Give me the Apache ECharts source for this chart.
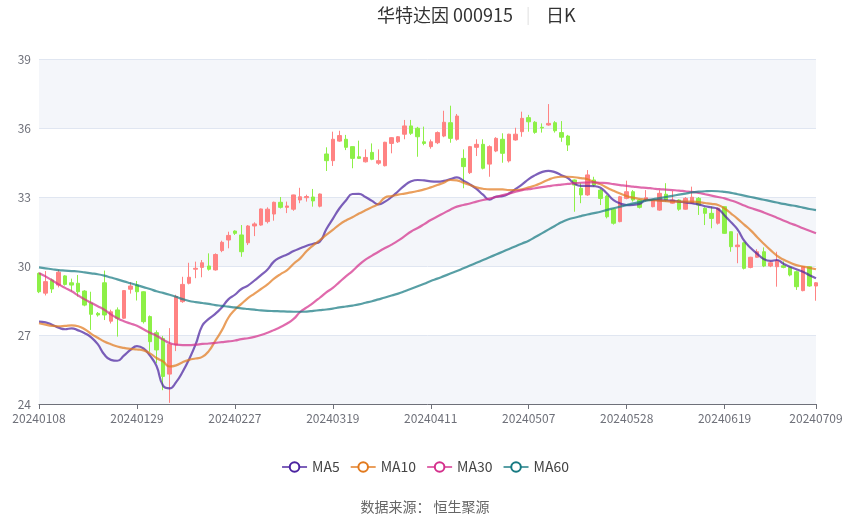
<!DOCTYPE html>
<html><head><meta charset="utf-8">
<script src="https://cdn.jsdelivr.net/npm/echarts@6/dist/echarts.min.js"></script>
<style>html,body{margin:0;padding:0;background:#fff}#c{width:850px;height:517px}</style>
</head><body><div id="c"></div>
<script>
const dates = ['20240108','20240109','20240110','20240111','20240112','20240115','20240116','20240117','20240118','20240119','20240122','20240123','20240124','20240125','20240126','20240129','20240130','20240131',
'20240201','20240202','20240205','20240206','20240207','20240208','20240219','20240220','20240221','20240222','20240223','20240226','20240227','20240228','20240229',
'20240301','20240304','20240305','20240306','20240307','20240308','20240311','20240312','20240313','20240314','20240315','20240318','20240319','20240320','20240321','20240322','20240325','20240326','20240327','20240328','20240329',
'20240401','20240402','20240403','20240408','20240409','20240410','20240411','20240412','20240415','20240416','20240417','20240418','20240419','20240422','20240423','20240424','20240425','20240426','20240429','20240430',
'20240506','20240507','20240508','20240509','20240510','20240513','20240514','20240515','20240516','20240517','20240520','20240521','20240522','20240523','20240524','20240527','20240528','20240529','20240530','20240531',
'20240603','20240604','20240605','20240606','20240607','20240611','20240612','20240613','20240614','20240617','20240618','20240619','20240620','20240621','20240624','20240625','20240626','20240627','20240628',
'20240701','20240702','20240703','20240704','20240705','20240708','20240709'];
const tickLabels = ['20240108','20240129','20240227','20240319','20240411','20240507','20240528','20240619','20240709'];
const yTicks = [24, 27, 30, 33, 36, 39];

const openP = [29.68,28.82,29.39,29.17,29.57,29.27,29.25,28.91,28.38,27.94, 29.27,27.6,28.09,27.73,28.99,29.17,28.88,27.8,27.1,26.85, 25.3,26.57,28.45,29.25,29.86,29.94,30.0,29.83,30.67,31.13, 31.52,31.35,31.01,31.74,31.78,31.93,32.26,32.77,32.55,32.47, 32.87,32.97,33.0,32.6,34.87,34.58,35.43,35.51,35.19,34.75, 34.53,34.94,34.47,34.36,35.33,35.4,35.73,36.09,35.99,35.4, 35.19,35.36,35.65,36.23,35.51,34.68,34.06,35.16,35.29,34.43, 35.0,35.51,34.57,35.48,35.84,36.45,36.25,36.03,36.13,36.23, 35.8,35.65,33.74,33.38,33.09,33.74,33.3,33.04,32.47,31.93, 32.94,33.23,32.87,32.87,32.58,32.43,33.12,32.73,32.87,32.47, 32.73,32.94,32.51,32.29,31.86,32.58,31.49,30.84,31.01,29.94, 30.38,30.62,30.0,29.97,30.01,29.94,29.75,28.93,29.97,29.13];
const closeP = [28.88,29.32,29.0,29.73,29.2,29.17,28.88,28.3,27.9,27.87, 27.87,28.01,27.73,28.93,29.13,28.88,27.58,26.71,26.35,25.2, 26.6,28.67,29.2,29.51,29.9,30.14,29.86,30.5,31.03,31.33, 31.42,30.62,31.74,31.83,32.48,32.47,32.77,32.55,32.61,33.09, 33.01,33.02,32.83,33.13,34.58,35.51,35.67,35.16,34.68,34.68, 34.72,34.64,34.58,35.38,35.58,35.62,36.09,35.77,35.62,35.33, 35.4,35.8,36.25,35.55,36.52,34.32,35.19,35.29,34.25,35.19, 35.55,34.9,35.73,35.73,36.42,36.27,35.81,36.0,36.2,35.88, 35.6,35.26,33.52,33.09,33.96,33.52,32.94,32.14,31.86,33.01, 33.23,32.87,32.55,32.97,32.87,33.16,32.87,32.87,32.47,32.94, 32.99,32.65,32.29,32.07,32.51,31.42,30.84,30.91,29.9,30.38, 30.62,30.0,30.14,30.23,29.94,29.61,29.1,29.97,29.13,29.27];
const lowP = [28.82,28.72,28.83,29.07,29.15,28.9,28.67,28.25,27.22,27.8, 27.65,27.5,26.93,27.7,28.8,28.5,27.5,26.27,25.77,24.6, 24.05,26.3,28.4,29.2,29.47,29.51,29.8,29.8,30.6,30.77, 31.35,30.4,30.91,31.3,31.75,31.85,31.97,32.5,32.3,32.4, 32.73,32.8,32.58,32.55,34.13,34.35,35.4,35.04,34.25,34.65, 34.5,34.6,34.4,34.33,34.9,35.35,35.51,35.7,34.75,35.25, 35.1,35.3,35.6,35.36,35.45,33.38,34.0,34.78,34.2,33.88, 34.95,34.49,34.5,35.45,35.62,35.84,35.75,35.8,36.1,35.8, 35.4,35.0,32.36,32.73,33.05,33.45,32.65,32.07,31.8,31.9, 32.9,32.8,32.5,32.8,32.55,32.4,32.8,32.7,32.4,32.45, 32.7,32.22,31.78,31.64,31.8,31.4,30.62,30.12,29.85,29.9, 30.35,29.95,29.95,29.1,29.9,29.55,28.96,28.9,29.1,28.49];
const highP = [29.72,29.78,29.45,29.83,29.6,29.45,29.61,28.95,28.88,28.0, 29.8,28.1,28.2,28.95,29.3,29.35,28.9,27.85,27.2,26.96, 27.3,28.75,29.53,30.14,30.19,30.26,30.55,30.55,31.1,31.49, 31.55,31.78,31.78,31.9,32.5,32.55,32.8,33.0,32.8,33.1, 33.4,33.1,33.35,33.15,35.16,35.84,35.88,35.7,35.2,35.45, 35.07,35.33,35.07,35.4,35.6,35.65,36.35,36.35,36.05,36.06, 35.5,35.85,36.75,36.97,36.61,35.07,35.22,35.51,35.51,35.25, 35.6,35.77,35.75,36.01,36.71,36.57,36.3,36.2,37.04,36.3, 36.3,35.7,33.76,33.6,34.17,33.88,33.35,33.1,32.5,33.05, 33.71,33.3,32.9,33.3,32.9,33.3,33.6,33.26,32.9,33.0, 33.45,33.0,32.55,32.58,32.55,32.6,31.5,31.42,31.05,30.4, 30.73,30.81,30.2,30.62,30.2,29.98,29.8,30.0,30.0,29.3];

const ma5 = [27.58,27.55,27.45,27.32,27.25,27.29,27.2,27.08,26.9,26.6, 26.15,25.92,25.88,26.1,26.35,26.52,26.42,26.1,25.65,24.8, 24.68,24.95,25.4,25.95,26.6,27.4,27.7,27.92,28.2,28.55, 28.75,29.0,29.15,29.37,29.6,29.85,30.2,30.38,30.5,30.65, 30.77,30.88,30.97,31.06,31.6,32.05,32.5,32.85,33.13,33.14, 33.0,32.83,32.68,32.8,33.0,33.25,33.5,33.68,33.74,33.72, 33.68,33.67,33.7,33.78,33.85,33.71,33.55,33.35,33.1,32.88, 33.02,33.04,33.15,33.35,33.55,33.78,33.95,34.08,34.14,34.08, 33.95,33.82,33.58,33.48,33.48,33.47,33.4,33.15,32.86,32.72, 32.65,32.66,32.7,32.88,32.88,32.86,32.85,32.84,32.8,32.77, 32.73,32.68,32.6,32.55,32.48,32.2,31.9,31.58,31.1,30.78, 30.53,30.3,30.22,30.26,30.1,29.97,29.86,29.75,29.6,29.47];
const ma10 = [27.51,27.45,27.4,27.38,27.4,27.42,27.38,27.25,27.05,26.88, 26.72,26.6,26.5,26.44,26.4,26.37,26.33,26.2,26.0,25.85, 25.63,25.68,25.82,25.92,25.98,26.05,26.3,26.75,27.2,27.75, 28.1,28.35,28.6,28.8,29.0,29.2,29.45,29.65,29.82,30.1, 30.33,30.65,30.9,31.12,31.35,31.57,31.8,31.98,32.12,32.28, 32.42,32.56,32.7,32.98,33.04,33.1,33.15,33.2,33.26,33.33, 33.42,33.52,33.62,33.74,33.72,33.62,33.52,33.42,33.36,33.33, 33.33,33.33,33.3,33.3,33.33,33.42,33.5,33.62,33.75,33.85, 33.88,33.88,33.86,33.82,33.77,33.65,33.55,33.4,33.27,33.15, 33.04,32.97,32.92,32.88,32.86,32.84,32.82,32.8,32.8,32.8, 32.8,32.78,32.74,32.7,32.65,32.5,32.28,32.05,31.8,31.55, 31.25,30.97,30.7,30.45,30.28,30.15,30.04,29.98,29.92,29.86];
const ma30 = [29.7,29.55,29.38,29.2,29.05,28.9,28.72,28.55,28.4,28.25, 28.1,27.9,27.73,27.6,27.5,27.4,27.25,27.1,26.97,26.8, 26.65,26.58,26.56,26.56,26.58,26.61,26.63,26.66,26.69,26.72, 26.76,26.82,26.86,26.92,27.0,27.1,27.22,27.35,27.5,27.7, 28.0,28.2,28.4,28.62,28.85,29.05,29.3,29.55,29.78,30.05, 30.28,30.45,30.62,30.78,30.93,31.1,31.3,31.5,31.65,31.82, 32.0,32.15,32.3,32.45,32.58,32.65,32.72,32.8,32.87,32.93, 33.0,33.08,33.15,33.23,33.3,33.34,33.38,33.43,33.47,33.51, 33.54,33.57,33.6,33.62,33.63,33.64,33.62,33.6,33.56,33.52, 33.48,33.45,33.42,33.4,33.37,33.34,33.32,33.3,33.28,33.25, 33.22,33.18,33.12,33.06,33.0,32.94,32.85,32.75,32.63,32.52, 32.43,32.33,32.22,32.1,31.98,31.86,31.76,31.64,31.53,31.42];
const ma60 = [29.94,29.9,29.86,29.82,29.8,29.78,29.76,29.72,29.68,29.64, 29.58,29.5,29.42,29.33,29.25,29.17,29.08,29.0,28.9,28.83, 28.75,28.66,28.56,28.48,28.43,28.39,28.35,28.3,28.27,28.23, 28.2,28.16,28.13,28.1,28.07,28.05,28.04,28.03,28.02,28.01, 28.01,28.02,28.05,28.08,28.11,28.15,28.2,28.24,28.28,28.33, 28.4,28.47,28.55,28.63,28.72,28.8,28.9,29.01,29.12,29.23, 29.35,29.45,29.56,29.67,29.78,29.9,30.02,30.14,30.26,30.38, 30.5,30.62,30.74,30.86,30.98,31.1,31.26,31.42,31.58,31.74, 31.9,32.02,32.1,32.17,32.24,32.3,32.36,32.44,32.51,32.58, 32.65,32.72,32.78,32.84,32.9,32.95,33.0,33.05,33.1,33.15, 33.2,33.23,33.25,33.26,33.25,33.22,33.18,33.12,33.06,33.0, 32.94,32.88,32.82,32.76,32.7,32.65,32.6,32.54,32.48,32.43];

const kData = dates.map((d, i) => [openP[i], closeP[i], lowP[i], highP[i]]);
const UP = '#ff8383', DOWN = '#8df047';
const FONT = '"Noto Sans CJK SC", "Noto Sans", sans-serif';
const showLabel = (idx, val) => tickLabels.indexOf(val) >= 0;

function maSeries(name, data, color) {
  return {
    name, type: 'line', data, smooth: true, showSymbol: false, symbol: 'emptyCircle', symbolSize: 8,
    itemStyle: { color: color },
    lineStyle: { color: color, width: 2.2, opacity: 0.72 },
    z: 3
  };
}

const chart = echarts.init(document.getElementById('c'), null, { renderer: 'canvas' });
chart.setOption({
  animation: false,
  textStyle: { fontFamily: FONT },
  title: [
    { text: '华特达因 000915', left: 377, top: 6, padding: 0, textStyle: { fontSize: 18, fontWeight: 'normal', color: '#333', fontFamily: FONT } },
    { text: '|', left: 526, top: 6, padding: 0, textStyle: { fontSize: 16, fontWeight: 'normal', color: '#e3e3e3', fontFamily: FONT } },
    { text: '日K', left: 546, top: 6, padding: 0, textStyle: { fontSize: 18, fontWeight: 'normal', color: '#333', fontFamily: FONT } },
    { text: '数据来源： 恒生聚源', left: 'center', top: 500, padding: 0, textStyle: { fontSize: 14, fontWeight: 'normal', color: '#666', fontFamily: FONT } }
  ],
  legend: {
    bottom: 38, left: 'center', itemGap: 10, itemWidth: 25, itemHeight: 12,
    textStyle: { fontSize: 14, color: '#444', fontFamily: FONT },
    data: ['MA5', 'MA10', 'MA30', 'MA60']
  },
  grid: { left: 39, right: 34, top: 59, bottom: 113 },
  xAxis: {
    type: 'category', data: dates, boundaryGap: false,
    axisLine: { lineStyle: { color: '#6E7079' } },
    axisTick: { interval: showLabel },
    axisLabel: { interval: showLabel, color: '#6E7079', fontSize: 12, showMaxLabel: true },
    splitLine: { show: false }
  },
  yAxis: {
    type: 'value', min: yTicks[0], max: yTicks[yTicks.length - 1], interval: 3, scale: true,
    axisLabel: { color: '#6E7079', fontSize: 12 },
    splitLine: { lineStyle: { color: '#E0E6F1' } },
    splitArea: { show: true }
  },
  series: [
    {
      name: '日K', type: 'candlestick', data: kData, barWidth: 4,
      itemStyle: { color: UP, color0: DOWN, borderColor: UP, borderColor0: DOWN, borderWidth: 1 },
      z: 2
    },
    maSeries('MA5', ma5, '#4b23a0'),
    maSeries('MA10', ma10, '#e27a1e'),
    maSeries('MA30', ma30, '#d4308c'),
    maSeries('MA60', ma60, '#177a82')
  ]
});
</script></body></html>
